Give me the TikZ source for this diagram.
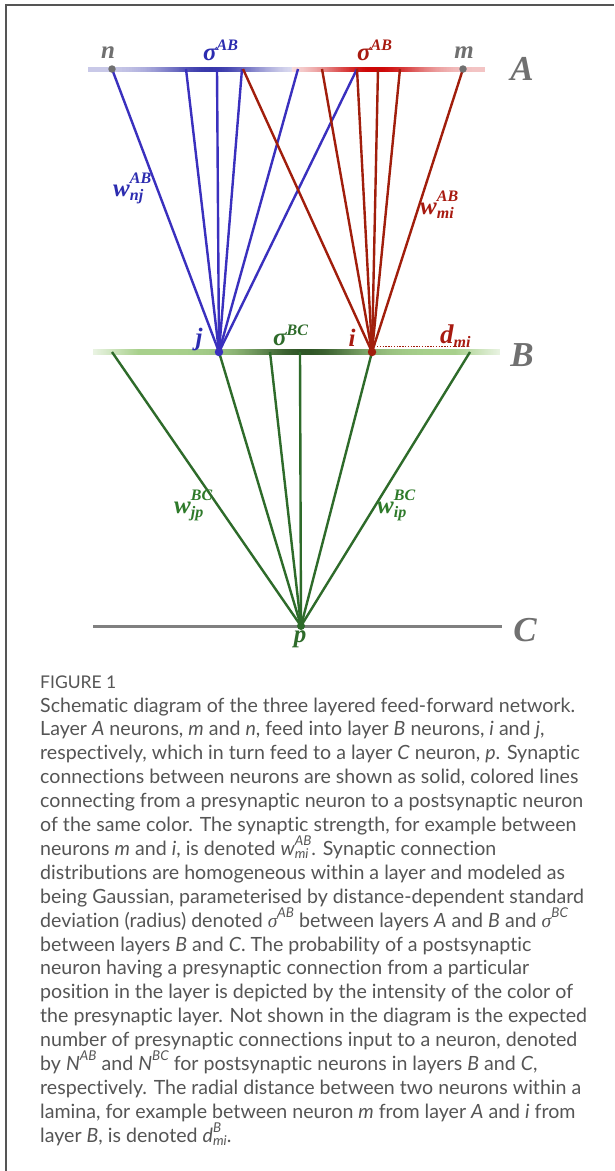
\documentclass[tikz,border=0pt]{standalone}
\usepackage{fontspec}
\setmainfont{Liberation Serif}
\newfontfamily\capfont{Lato}[Ligatures={NoCommon}]
\usetikzlibrary{calc}
\pgfdeclarelayer{bg}
\pgfsetlayers{bg,main}

\definecolor{blueL}{HTML}{3A30BE}
\definecolor{redL}{HTML}{A11E0C}
\definecolor{greenL}{HTML}{2E6B2A}
\definecolor{grayT}{HTML}{707070}
\definecolor{blueT}{HTML}{2C2CB0}
\definecolor{redT}{HTML}{A81A10}
\definecolor{greenT}{HTML}{2E7A2A}
\definecolor{blueA}{HTML}{1E1EA0}
\definecolor{redA}{HTML}{CC0000}
\definecolor{greenD}{HTML}{2F5526}
\definecolor{greenLt}{HTML}{A8D08C}
\definecolor{capT}{HTML}{555555}
\definecolor{frameC}{HTML}{555555}
\definecolor{layerC}{HTML}{808080}

\newdimen\sswd
\newcommand{\supsub}[3]{%
  \setbox0\hbox{#1#2}\setbox2\hbox{#1#3}%
  \ifdim\wd0>\wd2 \sswd=\wd0 \else \sswd=\wd2 \fi
  \rlap{\raisebox{0.5em}{\box0}}\rlap{\raisebox{-0.18em}{\box2}}\hspace*{\sswd}}
\newcommand{\dsz}{\fontsize{16}{16}\selectfont\bfseries\itshape}
\newcommand{\csz}{\fontsize{13.5}{13.5}\selectfont\itshape}

\begin{document}
\begin{tikzpicture}[x=1pt,y=-1pt,
  neuron/.style={circle, inner sep=0pt, minimum size=#1},
  lbl/.style={inner sep=0pt, font=\fontsize{25}{25}\selectfont\bfseries\itshape},
  layerlbl/.style={inner sep=0pt, text=grayT, font=\fontsize{35}{35}\selectfont\bfseries\itshape},
  bluecon/.style={draw=blueL, line width=2.4pt},
  redcon/.style={draw=redL, line width=2.4pt},
  greencon/.style={draw=greenL, line width=2.4pt},
  capline/.style={anchor=base west, inner sep=0pt, text=capT, font=\capfont\fontsize{19.6}{22}\selectfont},
  capttl/.style={anchor=base west, inner sep=0pt, text=capT, font=\capfont\fontsize{17.5}{20}\selectfont}
]
\useasboundingbox (0,0) rectangle (614,1171);

% neurons
\node[neuron=7.5pt, fill=grayT] (n) at (112,69) {};
\node[neuron=7.5pt, fill=grayT] (m) at (463,69) {};
\node[neuron=8.5pt, fill=blueL] (j) at (219,352) {};
\node[neuron=8.5pt, fill=redL] (i) at (372,352) {};
\node[neuron=8pt, fill=greenL] (p) at (301,626) {};

% connector free ends
\coordinate (a1) at (186,69);
\coordinate (a2) at (217,69);
\coordinate (a3) at (242,69);
\coordinate (a4) at (298,69);
\coordinate (a5) at (357,69);
\coordinate (r1) at (243,69);
\coordinate (r2) at (322,69);
\coordinate (r3) at (357,69);
\coordinate (r4) at (378,69);
\coordinate (r5) at (400,69);
\coordinate (g1) at (112,352);
\coordinate (g2) at (270,352);
\coordinate (g3) at (300,352);
\coordinate (g4) at (470,352);
\coordinate (dmi) at (467,346.5);
\coordinate (cL) at (93,626);
\coordinate (cR) at (502,626);

\begin{pgfonlayer}{bg}
\fill[white] (0,0) rectangle (614,1171);
\draw[frameC, line width=1.5pt] (6,1171) -- (6,5) -- (614,5);
% layer A
\foreach \x in {88,...,291}{
  \pgfmathtruncatemacro\pp{(24-18*(\x-88)/203)+76*exp(-((\x-212)/40)^2/2)}
  \fill[blueA!\pp!white] (\x,66.5) rectangle ++(1.4,5);
}
\foreach \x in {292,...,484}{
  \pgfmathtruncatemacro\pp{(6+16*(\x-292)/192)+86*exp(-((\x-373)/38)^2/2)}
  \fill[redA!\pp!white] (\x,66.5) rectangle ++(1.4,5);
}
% layer B
\foreach \x in {93,...,499}{
  \pgfmathtruncatemacro\qq{100*exp(-((\x-305)/42)^2/2)}
  \pgfmathtruncatemacro\ff{25+75*min(1,min((\x-93)/45,(500-\x)/45))}
  \fill[greenD!\qq!greenLt!\ff!white] (\x,349.3) rectangle ++(1.4,5.4);
}
% layer C
\draw[layerC, line width=3pt] (cL) -- (cR);
% connectors A -> B
\foreach \c in {n,a1,a2,a3,a4,a5}{\draw[bluecon] (\c.center) -- (j.center);}
\foreach \c in {r1,r2,r3,r4,r5,m}{\draw[redcon] (\c.center) -- (i.center);}
% connectors B -> C
\foreach \c in {g1,j,g2,g3,i,g4}{\draw[greencon] (\c.center) -- (p.center);}
\draw[redL, line width=1.4pt, dash pattern=on 1.4pt off 1.4pt] (i.center |- dmi) ++(5,0) -- (dmi);
\end{pgfonlayer}

% labels
\node[lbl, text=grayT] (ln) at (108,53) {n};
\node[lbl, text=grayT] (lm) at (464,53) {m};
\node[lbl, text=blueT, anchor=base west] (sab1) at (203,60) {σ\raisebox{0.4em}{\dsz AB}};
\node[lbl, text=redT, anchor=base west] (sab2) at (357,60) {σ\raisebox{0.4em}{\dsz AB}};
\node[layerlbl] (lA) at (522,69) {A};
\node[layerlbl] (lB) at (522,355) {B};
\node[layerlbl] (lC) at (525,630) {C};
\node[lbl, text=blueT, anchor=base west] (wnj) at (113,196) {w\supsub{\dsz}{AB}{nj}};
\node[lbl, text=redT, anchor=base west] (wmi) at (420,214) {w\supsub{\dsz}{AB}{mi}};
\node[lbl, text=greenT, anchor=base west] (wjp) at (174,513) {w\supsub{\dsz}{BC}{jp}};
\node[lbl, text=greenT, anchor=base west] (wip) at (377,513) {w\supsub{\dsz}{BC}{ip}};
\node[lbl, text=blueT, anchor=base] (lj) at (199,345) {j};
\node[lbl, text=redT, anchor=base] (li) at (352,346) {i};
\node[lbl, text=redT, anchor=base west, font=\fontsize{27}{27}\selectfont\bfseries\itshape] (ldmi) at (440,343) {d\raisebox{-0.15em}{\dsz mi}};
\node[lbl, text=greenL, anchor=base west] (sbc) at (273,345) {σ\raisebox{0.4em}{\dsz BC}};
\node[lbl, text=greenL, anchor=base] (lp) at (300,642) {p};

% caption
\node[capttl] (cap0) at (40,688) {FIGURE 1};
\node[capline] (cap1) at (40,712.0) {Schematic diagram of the three layered feed-forward network.};
\node[capline] (cap2) at (40,735.9) {Layer \textit{A} neurons, \textit{m} and \textit{n}, feed into layer \textit{B} neurons, \textit{i} and \textit{j},};
\node[capline] (cap3) at (40,759.8) {respectively, which in turn feed to a layer \textit{C} neuron, \textit{p}. Synaptic};
\node[capline] (cap4) at (40,783.7) {connections between neurons are shown as solid, colored lines};
\node[capline] (cap5) at (40,807.6) {connecting from a presynaptic neuron to a postsynaptic neuron};
\node[capline] (cap6) at (40,831.5) {of the same color. The synaptic strength, for example between};
\node[capline] (cap7) at (40,855.4) {neurons \textit{m} and \textit{i}, is denoted \textit{w}\supsub{\csz}{AB}{mi}. Synaptic connection};
\node[capline] (cap8) at (40,879.3) {distributions are homogeneous within a layer and modeled as};
\node[capline] (cap9) at (40,903.2) {being Gaussian, parameterised by distance-dependent standard};
\node[capline] (cap10) at (40,927.1) {deviation (radius) denoted {\rmfamily\itshape σ}\raisebox{0.5em}{\csz AB} between layers \textit{A} and \textit{B} and {\rmfamily\itshape σ}\raisebox{0.5em}{\csz BC}};
\node[capline] (cap11) at (40,951.0) {between layers \textit{B} and \textit{C}. The probability of a postsynaptic};
\node[capline] (cap12) at (40,974.9) {neuron having a presynaptic connection from a particular};
\node[capline] (cap13) at (40,998.8) {position in the layer is depicted by the intensity of the color of};
\node[capline] (cap14) at (40,1022.7) {the presynaptic layer. Not shown in the diagram is the expected};
\node[capline] (cap15) at (40,1046.6) {number of presynaptic connections input to a neuron, denoted};
\node[capline] (cap16) at (40,1070.5) {by \textit{N}\raisebox{0.5em}{\csz AB} and \textit{N}\raisebox{0.5em}{\csz BC} for postsynaptic neurons in layers \textit{B} and \textit{C},};
\node[capline] (cap17) at (40,1094.4) {respectively. The radial distance between two neurons within a};
\node[capline] (cap18) at (40,1118.3) {lamina, for example between neuron \textit{m} from layer \textit{A} and \textit{i} from};
\node[capline] (cap19) at (40,1142.2) {layer \textit{B}, is denoted \textit{d}\supsub{\csz}{B}{mi}.};
\end{tikzpicture}
\end{document}
